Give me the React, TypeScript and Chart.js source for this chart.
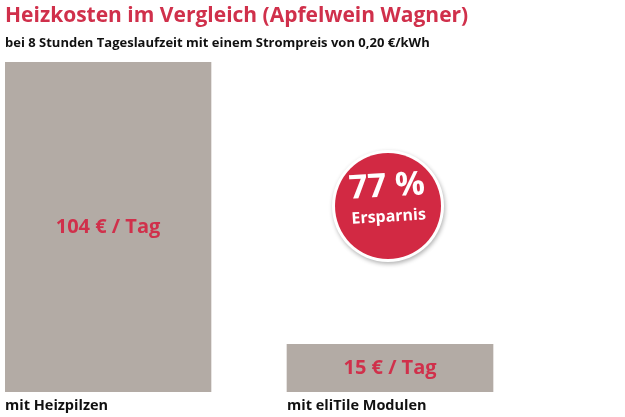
import { useEffect, useRef } from "react";
import { Chart, registerables } from "chart.js";

Chart.register(...registerables);

const categories = ["mit Heizpilzen", "mit eliTile Modulen"];
const costs = [104, 15];
const costLabels = ["104 € / Tag", "15 € / Tag"];
const savingLabel = "77 %";
const savingCaption = "Ersparnis";

const RED = "#d0304b";
const BADGE_RED = "#d22943";
const GREY = "#b3aba5";
const FONT = "'Open Sans', sans-serif";

const labelPlugin = {
  id: "barLabels",
  afterDatasetsDraw(chart: any) {
    const { ctx, chartArea } = chart;
    const meta = chart.getDatasetMeta(0);
    ctx.save();
    meta.data.forEach((bar: any, i: number) => {
      const { x, y, base, width } = bar.getProps(["x", "y", "base", "width"], true);
      // value inside the bar
      ctx.fillStyle = RED;
      ctx.font = `bold 20px ${FONT}`;
      ctx.textAlign = "center";
      ctx.textBaseline = "middle";
      ctx.fillText(costLabels[i], x, (y + base) / 2);
      // category under the bar
      ctx.fillStyle = "#111";
      ctx.font = `bold 14.5px ${FONT}`;
      ctx.textAlign = "left";
      ctx.fillText(categories[i], x - width / 2, base + 14);
    });

    // savings badge above the second bar
    const last = meta.data[meta.data.length - 1];
    const cx = last.x - 2;
    const cy = (chartArea.top + chartArea.bottom) / 2 - 21;
    ctx.shadowColor = "rgba(0,0,0,0.3)";
    ctx.shadowBlur = 4;
    ctx.shadowOffsetX = 1;
    ctx.shadowOffsetY = 2;
    ctx.fillStyle = "#fff";
    ctx.beginPath();
    ctx.arc(cx, cy, 56, 0, Math.PI * 2);
    ctx.fill();
    ctx.shadowColor = "transparent";
    ctx.fillStyle = BADGE_RED;
    ctx.beginPath();
    ctx.arc(cx, cy, 53, 0, Math.PI * 2);
    ctx.fill();

    ctx.translate(cx, cy);
    ctx.rotate(-0.06);
    ctx.fillStyle = "#fff";
    ctx.textAlign = "center";
    ctx.textBaseline = "middle";
    ctx.font = `bold 33px ${FONT}`;
    ctx.fillText(savingLabel, 0, -19);
    ctx.font = `bold 16px ${FONT}`;
    ctx.fillText(savingCaption, 0, 11);
    ctx.restore();
  }
};

export default function App() {
  const chartRef = useRef<HTMLCanvasElement>(null);
  const chartInstance = useRef<Chart | null>(null);

  useEffect(() => {
    document.body.style.margin = "0";
    if (!chartRef.current) return;
    if (chartInstance.current) chartInstance.current.destroy();

    const ctx = chartRef.current.getContext("2d");
    if (ctx) {
      chartInstance.current = new Chart(ctx, {
        type: "bar",
        data: {
          datasets: [
            {
              label: "Heizkosten",
              data: costs.map((v, i) => ({ x: i, y: v })),
              backgroundColor: GREY,
              borderWidth: 0,
              barThickness: 206
            }
          ]
        },
        options: {
          animation: false,
          responsive: true,
          maintainAspectRatio: false,
          events: [],
          layout: { padding: { left: 5, right: 0, top: 0, bottom: 25 } },
          scales: {
            x: { type: "linear", display: false, offset: false, min: -0.3652, max: 1.8333 },
            y: { display: false, min: 0, max: Math.max(...costs) }
          },
          plugins: {
            legend: { display: false },
            tooltip: { enabled: false },
            title: {
              display: true,
              text: "Heizkosten im Vergleich (Apfelwein Wagner)",
              align: "start",
              color: RED,
              font: { family: FONT, size: 21, weight: "bold", lineHeight: 1.2 },
              padding: { top: 3, bottom: 0 }
            },
            subtitle: {
              display: true,
              text: "bei 8 Stunden Tageslaufzeit mit einem Strompreis von 0,20 €/kWh",
              align: "start",
              color: "#111",
              font: { family: FONT, size: 13, weight: "bold", lineHeight: 1.2 },
              padding: { top: 7, bottom: 11.2 }
            }
          }
        },
        plugins: [labelPlugin]
      });
    }

    return () => {
      if (chartInstance.current) {
        chartInstance.current.destroy();
        chartInstance.current = null;
      }
    };
  }, []);

  return (
    <div style={{ width: 625, height: 417, position: "relative" }}>
      <canvas ref={chartRef}></canvas>
    </div>
  );
}
